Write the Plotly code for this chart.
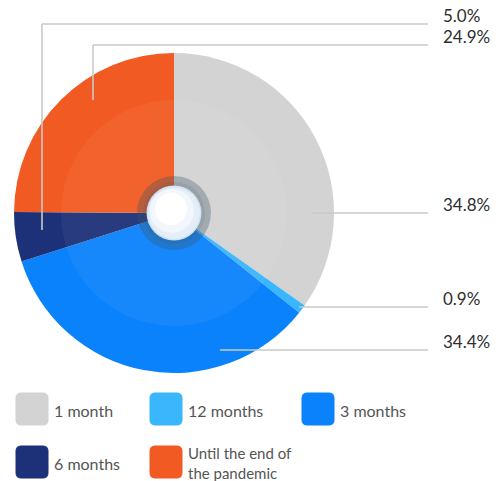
import plotly.graph_objects as go

# Survey shares by duration
categories = ["1 month", "12 months", "3 months", "6 months", "Until the end of<br>the pandemic"]
shares = [34.8, 0.9, 34.4, 5.0, 24.9]
colors = ["#d3d3d3", "#39b6fc", "#0a82fb", "#1d3179", "#f15a22"]

W, H = 500, 481
CX, CY, R = 174, 213, 160


def px(x):
    return x / W


def py(y):
    return 1 - y / H


fig = go.Figure()
fig.add_trace(go.Pie(
    labels=categories,
    values=shares,
    sort=False,
    direction="clockwise",
    rotation=0,
    marker=dict(colors=colors, line=dict(width=0)),
    textinfo="none",
    hoverinfo="label+percent",
    showlegend=False,
    domain=dict(x=[px(CX - R), px(CX + R)], y=[py(CY + R), py(CY - R)]),
))

shapes = []


def circle(r, fill, dx=0, dy=0, line_color=None, line_w=0):
    cx, cy = CX + dx, CY + dy
    shapes.append(dict(
        type="circle", xref="paper", yref="paper", layer="above",
        x0=px(cx - r), x1=px(cx + r), y0=py(cy + r), y1=py(cy - r),
        fillcolor=fill,
        line=dict(color=line_color or fill, width=line_w),
    ))


# soft inner highlight and the glossy hub
circle(113, "rgba(255,255,255,0.05)")
circle(37, "rgba(60,85,100,0.32)")
circle(31, "rgba(60,85,100,0.12)")
circle(27.5, "#cfe0f0")
circle(26, "#e4eef8")
circle(22, "#f3f7fc", dx=-2, dy=-2)
circle(16, "#ffffff", dx=-3, dy=-4)

# leader lines: (points in px) per slice, in slice order
leaders = [
    [(312, 213), (428, 213)],
    [(299, 307), (428, 307)],
    [(220, 350), (428, 350)],
    [(42, 230), (42, 24), (428, 24)],
    [(93, 100), (93, 45), (428, 45)],
]
annotations = []
for pts, v in zip(leaders, shares):
    for (x0, y0), (x1, y1) in zip(pts[:-1], pts[1:]):
        shapes.append(dict(
            type="line", xref="paper", yref="paper", layer="above",
            x0=px(x0), y0=py(y0), x1=px(x1), y1=py(y1),
            line=dict(color="#c9c9c9", width=1.6),
        ))
    ly = pts[-1][1]
    annotations.append(dict(
        x=px(441), y=py(ly + 4), xref="paper", yref="paper",
        xanchor="left", yanchor="bottom", showarrow=False,
        text=f"{v:.1f}%",
        font=dict(family="Lato", size=17, color="#2e2e2e"),
    ))


def rounded_rect(x0, y0, x1, y1, r):
    # path in paper coords for a rounded square given in px
    return (
        f"M {px(x0 + r)},{py(y0)} L {px(x1 - r)},{py(y0)} "
        f"Q {px(x1)},{py(y0)} {px(x1)},{py(y0 + r)} "
        f"L {px(x1)},{py(y1 - r)} Q {px(x1)},{py(y1)} {px(x1 - r)},{py(y1)} "
        f"L {px(x0 + r)},{py(y1)} Q {px(x0)},{py(y1)} {px(x0)},{py(y1 - r)} "
        f"L {px(x0)},{py(y0 + r)} Q {px(x0)},{py(y0)} {px(x0 + r)},{py(y0)} Z"
    )


# legend built from swatches
legend_pos = [(16, 393), (150, 393), (302, 393), (16, 446), (150, 446)]
for (lx, ly), name, c in zip(legend_pos, categories, colors):
    shapes.append(dict(
        type="path", xref="paper", yref="paper",
        path=rounded_rect(lx, ly, lx + 32, ly + 32, 5),
        fillcolor=c, line=dict(color=c, width=1),
    ))
    annotations.append(dict(
        x=px(lx + 36), y=py(ly + 17), xref="paper", yref="paper",
        xanchor="left", yanchor="middle", align="left", showarrow=False,
        text=name,
        font=dict(family="Lato", size=16 if "<br>" not in name else 15,
                  color="#555555"),
    ))

fig.update_layout(
    width=W, height=H,
    margin=dict(l=0, r=0, t=0, b=0),
    paper_bgcolor="white", plot_bgcolor="white",
    shapes=shapes, annotations=annotations,
)

fig.write_html("out.html")
